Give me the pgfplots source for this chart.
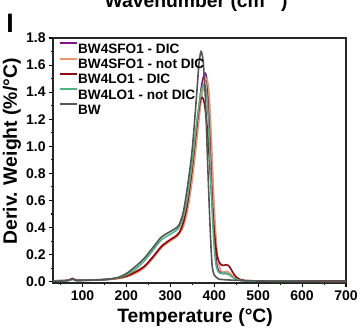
\documentclass[border=0pt]{standalone}
\usepackage{pgfplots}
\pgfplotsset{compat=1.18}
\usepackage{fontspec}
\setmainfont{Liberation Sans}
\definecolor{cpurple}{RGB}{128,20,140}
\definecolor{corange}{RGB}{235,150,110}
\definecolor{cred}{RGB}{140,10,20}
\definecolor{cgreen}{RGB}{80,180,130}
\definecolor{cgray}{RGB}{85,85,85}
\begin{document}
\begin{tikzpicture}
\useasboundingbox (0,0) rectangle (272.25pt,247.5pt);
\clip (0,0) rectangle (272.25pt,247.5pt);
\node[anchor=base, inner sep=0pt, font=\fontsize{14.5}{16}\selectfont\bfseries] at (147pt,242.25pt) {Wavenumber (cm\textsuperscript{−1})};
\node[anchor=base west, inner sep=0pt, font=\fontsize{20}{22}\selectfont\bfseries] at (4.6pt,223.5pt) {I};
\begin{axis}[
  at={(39.75pt,35.25pt)}, anchor=south west,
  scale only axis, width=219.75pt, height=183.75pt,
  xmin=33, xmax=700, ymin=-0.01, ymax=1.8,
  xtick={100,200,...,700}, minor xtick={50,150,...,650},
  ytick={0,0.2,...,1.8}, minor ytick={0.1,0.3,...,1.7},
  xtick pos=bottom, ytick pos=left,
  tick align=outside,
  major tick length=3pt, minor tick length=1.6pt,
  every tick/.style={black, line width=0.8pt},
  axis line style={line width=1pt, black!85},
  /pgf/number format/assume math mode=true,
  ticklabel style={font=\fontsize{10.5}{12}\selectfont\bfseries},
  yticklabel style={/pgf/number format/fixed, /pgf/number format/fixed zerofill, /pgf/number format/precision=1, xshift=1pt},
  xticklabel style={yshift=1pt},
  xlabel={Temperature (°C)},
  ylabel={Deriv. Weight (\%/°C)},
  label style={font=\fontsize{14.5}{16}\selectfont\bfseries},
  xlabel style={at={(axis description cs:0.485,-0.163)}, anchor=base},
  ylabel style={at={(axis description cs:-0.14,0.537)}, anchor=center},
  legend style={at={(axis description cs:0.022,0.982)}, anchor=north west, draw=none, fill=none,
    inner sep=0pt, outer sep=0pt,
    font=\fontsize{10.2}{11}\selectfont\bfseries,
    nodes={inner sep=0pt, text height=7.4pt, text depth=0pt}, row sep=3.3pt},
  /tikz/every even column/.append style={column sep=1pt},
  legend cell align=left,
  legend image code/.code={\draw[#1, line width=1.5pt] (0pt,3.7pt) -- (12.5pt,3.7pt);},
  every axis plot/.append style={line width=1.2pt, smooth},
]
\addplot[cpurple] coordinates {
(33,0.005)(60,0.008)(70,0.012)(77,0.022)(85,0.01)(100,0.01)(150,0.015)(180,0.025)(200,0.04)(220,0.07)(240,0.11)(260,0.18)(280,0.26)(300,0.31)(310,0.33)(320,0.36)(330,0.43)(340,0.58)(350,0.82)(360,1.12)(370,1.42)(376,1.52)(380,1.54)(384,1.46)(390,1.12)(395,0.7)(400,0.35)(405,0.15)(410,0.08)(420,0.06)(430,0.06)(440,0.04)(450,0.02)(460,0.01)(480,0.005)(550,0.004)(700,0.003)};
\addlegendentry{BW4SFO1 - DIC}
\addplot[corange] coordinates {
(33,0.004)(60,0.007)(70,0.011)(77,0.02)(85,0.01)(100,0.01)(150,0.014)(180,0.022)(200,0.035)(220,0.06)(240,0.10)(260,0.17)(280,0.25)(300,0.30)(310,0.32)(320,0.35)(330,0.41)(340,0.54)(350,0.75)(360,1.03)(370,1.33)(378,1.47)(383,1.50)(388,1.40)(393,1.1)(398,0.7)(403,0.38)(408,0.18)(414,0.09)(420,0.07)(430,0.075)(440,0.05)(450,0.025)(465,0.01)(490,0.005)(550,0.004)(700,0.003)};
\addlegendentry{BW4SFO1 - not DIC}
\addplot[cred] coordinates {
(33,0.006)(60,0.008)(70,0.012)(77,0.024)(85,0.011)(100,0.011)(150,0.016)(180,0.026)(200,0.04)(220,0.07)(240,0.11)(260,0.18)(280,0.26)(300,0.31)(310,0.33)(320,0.36)(330,0.44)(340,0.6)(350,0.85)(360,1.15)(368,1.33)(373,1.36)(378,1.31)(385,1.1)(392,0.75)(398,0.45)(405,0.22)(412,0.14)(420,0.12)(428,0.125)(435,0.11)(442,0.07)(450,0.035)(460,0.015)(470,0.008)(500,0.006)(600,0.006)(700,0.006)};
\addlegendentry{BW4LO1 - DIC}
\addplot[cgreen] coordinates {
(33,0.004)(60,0.007)(70,0.01)(77,0.018)(85,0.009)(100,0.009)(150,0.015)(180,0.028)(200,0.05)(220,0.09)(240,0.15)(260,0.23)(280,0.31)(300,0.35)(310,0.37)(320,0.40)(330,0.48)(340,0.64)(350,0.88)(360,1.17)(370,1.40)(378,1.46)(383,1.38)(388,1.1)(393,0.7)(398,0.35)(403,0.15)(408,0.08)(415,0.06)(425,0.065)(435,0.05)(445,0.025)(460,0.01)(480,0.005)(550,0.003)(700,0.002)};
\addlegendentry{BW4LO1 - not DIC}
\addplot[cgray] coordinates {
(33,0.003)(60,0.006)(70,0.01)(77,0.02)(85,0.009)(100,0.009)(150,0.015)(180,0.03)(200,0.06)(220,0.11)(240,0.17)(260,0.25)(280,0.33)(300,0.37)(310,0.39)(320,0.42)(330,0.52)(340,0.72)(350,0.98)(360,1.38)(365,1.6)(370,1.70)(375,1.62)(380,1.35)(384,0.97)(390,0.45)(395,0.13)(400,0.05)(405,0.03)(410,0.02)(420,0.015)(450,0.01)(500,0.005)(600,0.003)(700,0.002)};
\addlegendentry{BW}
\end{axis}
\end{tikzpicture}
\end{document}
